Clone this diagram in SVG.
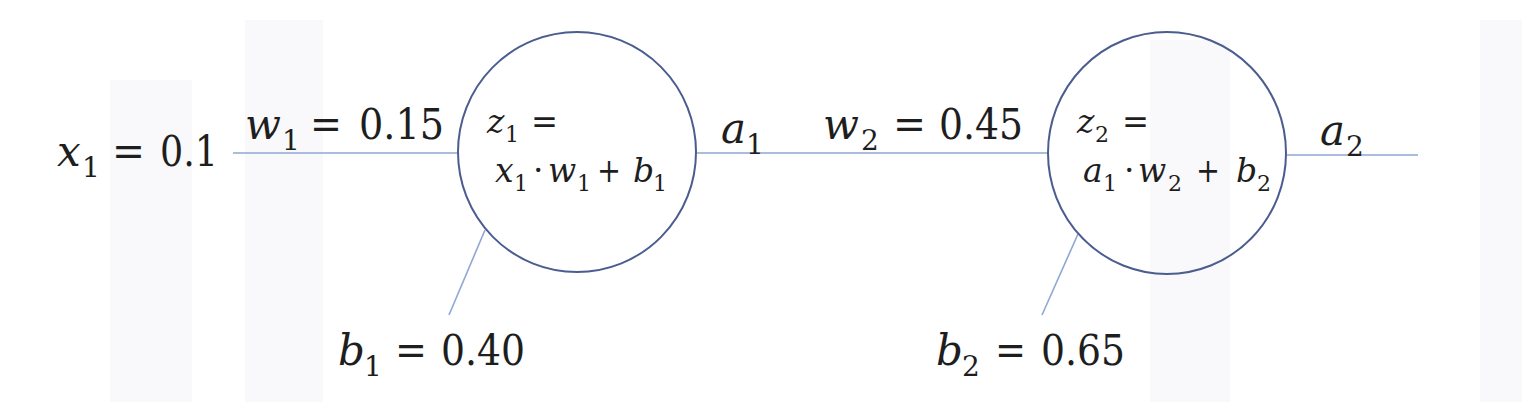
<svg xmlns="http://www.w3.org/2000/svg" width="1522" height="402" viewBox="0 0 1522 402">
<style>
.f{font-family:'DejaVu Serif','Liberation Serif',serif;fill:#1e1e1e}
.v{font-style:italic}
.o{font-size:42px}
.i{font-size:33px}
.so{font-size:28px}
.si{font-size:22px}
.link{stroke:#8fa7d3;stroke-width:1.6;fill:none}
.node{fill:none;stroke:#4b5c8f;stroke-width:2}
.bg{fill:#f9f9fb}
</style>
<rect width="1522" height="402" fill="#ffffff"/>
<g id="background">
<rect class="bg" x="110" y="80" width="82" height="322"/>
<rect class="bg" x="245" y="20" width="78" height="382"/>
<rect class="bg" x="1150" y="40" width="80" height="362"/>
<rect class="bg" x="1480" y="20" width="42" height="382"/>
</g>
<g id="connectors">
<line class="link" x1="233" y1="153" x2="458" y2="153"/>
<line class="link" x1="697" y1="153" x2="1048" y2="153"/>
<line class="link" x1="1287" y1="155" x2="1418" y2="155"/>
<line class="link" x1="485" y1="230" x2="449" y2="315"/>
<line class="link" x1="1078" y1="234" x2="1042" y2="315"/>
</g>
<g id="neuron1">
<ellipse class="node" cx="577" cy="152" rx="119" ry="120"/>
<text class="f i"><tspan class="v" x="487" y="133">z</tspan><tspan class="si" x="505" y="142">1</tspan><tspan x="531" y="133" textLength="27" lengthAdjust="spacingAndGlyphs">=</tspan></text>
<text class="f i"><tspan class="v" x="495" y="182">x</tspan><tspan class="si" x="514" y="191">1</tspan><tspan x="533" y="182">·</tspan><tspan class="v" x="548" y="182">w</tspan><tspan class="si" x="577" y="191">1</tspan><tspan x="597" y="182" textLength="24" lengthAdjust="spacingAndGlyphs">+</tspan><tspan class="v" x="633" y="182">b</tspan><tspan class="si" x="653" y="191">1</tspan></text>
</g>
<g id="neuron2">
<ellipse class="node" cx="1167" cy="153" rx="119" ry="121"/>
<text class="f i"><tspan class="v" x="1077" y="133">z</tspan><tspan class="si" x="1095" y="142">2</tspan><tspan x="1122" y="133" textLength="27" lengthAdjust="spacingAndGlyphs">=</tspan></text>
<text class="f i"><tspan class="v" x="1083" y="182">a</tspan><tspan class="si" x="1103" y="191">1</tspan><tspan x="1124" y="182">·</tspan><tspan class="v" x="1138" y="182">w</tspan><tspan class="si" x="1168" y="191">2</tspan><tspan x="1196" y="182" textLength="24" lengthAdjust="spacingAndGlyphs">+</tspan><tspan class="v" x="1236" y="182">b</tspan><tspan class="si" x="1257" y="191">2</tspan></text>
</g>
<g id="input-x1">
<text class="f o"><tspan class="v" x="57" y="166">x</tspan><tspan class="so" x="82" y="177">1</tspan><tspan x="112" y="166" textLength="33" lengthAdjust="spacingAndGlyphs">=</tspan><tspan x="160" y="166" textLength="58" lengthAdjust="spacingAndGlyphs">0.1</tspan></text>
</g>
<g id="weight-w1">
<text class="f o"><tspan class="v" x="245" y="139">w</tspan><tspan class="so" x="282" y="150">1</tspan><tspan x="310" y="139" textLength="32" lengthAdjust="spacingAndGlyphs">=</tspan><tspan x="359" y="139" textLength="85" lengthAdjust="spacingAndGlyphs">0.15</tspan></text>
</g>
<g id="output-a1">
<text class="f o"><tspan class="v" x="721" y="143">a</tspan><tspan class="so" x="746" y="154">1</tspan></text>
</g>
<g id="weight-w2">
<text class="f o"><tspan class="v" x="823" y="139">w</tspan><tspan class="so" x="861" y="150">2</tspan><tspan x="893" y="139" textLength="33" lengthAdjust="spacingAndGlyphs">=</tspan><tspan x="939" y="139" textLength="84" lengthAdjust="spacingAndGlyphs">0.45</tspan></text>
</g>
<g id="output-a2">
<text class="f o"><tspan class="v" x="1320" y="145">a</tspan><tspan class="so" x="1346" y="156">2</tspan></text>
</g>
<g id="bias-b1">
<text class="f o"><tspan class="v" x="338" y="365">b</tspan><tspan class="so" x="364" y="376">1</tspan><tspan x="395" y="365" textLength="32" lengthAdjust="spacingAndGlyphs">=</tspan><tspan x="441" y="365" textLength="84" lengthAdjust="spacingAndGlyphs">0.40</tspan></text>
</g>
<g id="bias-b2">
<text class="f o"><tspan class="v" x="936" y="365">b</tspan><tspan class="so" x="962" y="376">2</tspan><tspan x="995" y="365" textLength="31" lengthAdjust="spacingAndGlyphs">=</tspan><tspan x="1041" y="365" textLength="84" lengthAdjust="spacingAndGlyphs">0.65</tspan></text>
</g>
</svg>
